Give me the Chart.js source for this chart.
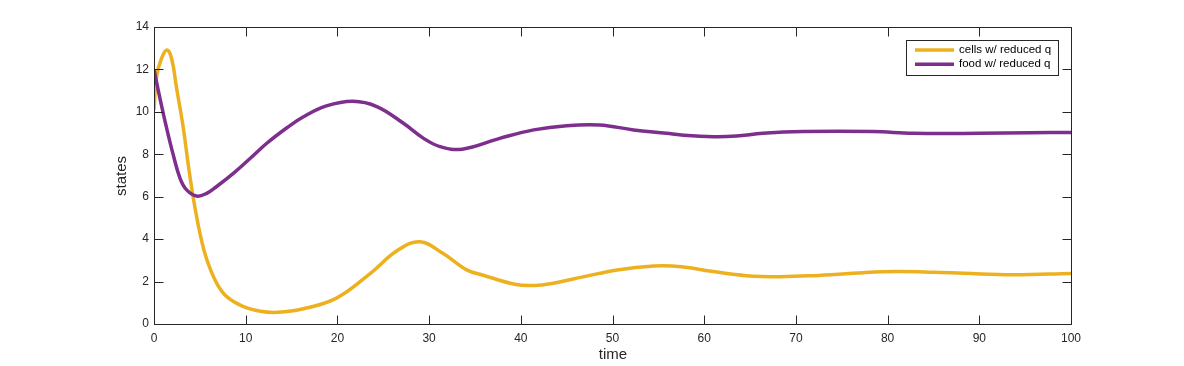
<!DOCTYPE html>
<html>
<head>
<meta charset="utf-8">
<script src="https://cdn.jsdelivr.net/npm/chart.js@4/dist/chart.umd.min.js"></script>
<style>
  html, body { margin: 0; padding: 0; background: #fff; }
  #wrap { width: 1184px; height: 366px; }
</style>
</head>
<body>
<div id="wrap"><canvas id="statesChart" width="1184" height="366"></canvas></div>
<script>
// values
const cellsTime = [0, 0.3, 0.8, 1.4, 1.9, 2.47, 3.2, 3.74, 4.29, 5.0, 5.75, 6.8, 7.9, 9.7, 11.6, 13.5, 16.3, 19.9, 23.6, 26.5, 29.0, 31.5, 34.1, 35.9, 39.5, 41.5, 43.2, 46.8, 50.5, 54.5, 57.5, 61, 64.6, 68.3, 71.9, 77.4, 81, 85, 88.3, 93.7, 100];
const cellsVals = [10.1, 11.7, 12.5, 12.92, 12.55, 11.1, 9.23, 7.5, 5.93, 4.3, 3.05, 1.95, 1.3, 0.83, 0.6, 0.55, 0.72, 1.22, 2.39, 3.45, 3.88, 3.33, 2.55, 2.3, 1.86, 1.82, 1.9, 2.22, 2.55, 2.73, 2.7, 2.47, 2.28, 2.23, 2.28, 2.42, 2.47, 2.44, 2.39, 2.32, 2.38];

const foodTime = [0, 0.65, 1.38, 2.1, 2.84, 3.56, 4.65, 5.75, 6.8, 8.65, 10.5, 12.3, 14.5, 16.3, 18.8, 21.7, 24.3, 27.2, 29.4, 31.2, 33.6, 37.7, 41.4, 45, 48.6, 52.3, 55.9, 57.5, 61, 63.5, 66.4, 70.8, 78.4, 82.8, 90, 95.5, 100];
const foodVals = [12.0, 10.64, 9.23, 7.97, 6.87, 6.32, 6.03, 6.16, 6.47, 7.1, 7.81, 8.52, 9.25, 9.77, 10.28, 10.5, 10.25, 9.46, 8.75, 8.36, 8.24, 8.75, 9.15, 9.35, 9.38, 9.15, 8.99, 8.91, 8.83, 8.86, 8.99, 9.07, 9.07, 8.99, 8.99, 9.02, 9.03];

const seriesNames = ['cells w/ reduced q', 'food w/ reduced q'];
const xTicks = [0, 10, 20, 30, 40, 50, 60, 70, 80, 90, 100];
const yTicks = [0, 2, 4, 6, 8, 10, 12, 14];
const xLabel = 'time';
const yLabel = 'states';

const FONT = '"Liberation Sans", Arial, Helvetica, sans-serif';
const AXIS_COLOR = '#262626';

function toPoints(xs, ys) {
    return xs.map((x, i) => ({ x: x, y: ys[i] }));
}

// matlab style box with inward ticks, axis labels and legend
const matlabAxes = {
    id: 'matlabAxes',
    afterDraw(chart) {
        const ctx = chart.ctx;
        const area = chart.chartArea;
        const xs = chart.scales.x;
        const ys = chart.scales.y;
        const L = Math.round(area.left) + 0.5;
        const R = Math.round(area.right) + 0.5;
        const T = Math.round(area.top) + 0.5;
        const B = Math.round(area.bottom) + 0.5;
        const tick = 9;

        ctx.save();
        ctx.strokeStyle = AXIS_COLOR;
        ctx.lineWidth = 1;
        ctx.beginPath();
        ctx.rect(L, T, R - L, B - T);
        xTicks.forEach(v => {
            const px = Math.round(xs.getPixelForValue(v)) + 0.5;
            ctx.moveTo(px, B); ctx.lineTo(px, B - tick);
            ctx.moveTo(px, T); ctx.lineTo(px, T + tick);
        });
        yTicks.forEach(v => {
            const py = Math.round(ys.getPixelForValue(v)) + 0.5;
            ctx.moveTo(L, py); ctx.lineTo(L + tick, py);
            ctx.moveTo(R, py); ctx.lineTo(R - tick, py);
        });
        ctx.stroke();

        // axis labels
        ctx.fillStyle = AXIS_COLOR;
        ctx.font = '15px ' + FONT;
        ctx.textAlign = 'center';
        ctx.textBaseline = 'middle';
        ctx.fillText(xLabel, (L + R) / 2, 355);
        ctx.translate(122, (T + B) / 2);
        ctx.rotate(-Math.PI / 2);
        ctx.fillText(yLabel, 0, 0);
        ctx.setTransform(1, 0, 0, 1, 0, 0);

        // legend
        const lx = 906.5, ly = 40.5, lw = 152, lh = 35;
        ctx.fillStyle = '#fff';
        ctx.fillRect(lx, ly, lw, lh);
        ctx.strokeStyle = AXIS_COLOR;
        ctx.strokeRect(lx, ly, lw, lh);
        ctx.font = '11.5px ' + FONT;
        ctx.textAlign = 'left';
        chart.data.datasets.forEach((ds, i) => {
            const y = 50 + i * 14.3;
            ctx.strokeStyle = ds.borderColor;
            ctx.lineWidth = 3.5;
            ctx.beginPath();
            ctx.moveTo(915, y);
            ctx.lineTo(954, y);
            ctx.stroke();
            ctx.fillStyle = '#000';
            ctx.fillText(ds.label, 959, y);
        });
        ctx.restore();
    }
};

const ctx = document.getElementById('statesChart').getContext('2d');
const statesChart = new Chart(ctx, {
    type: 'line',
    data: {
        datasets: [
            {
                label: seriesNames[0],
                data: toPoints(cellsTime, cellsVals),
                borderColor: '#EDB120',
                borderWidth: 3.5,
                pointRadius: 0,
                tension: 0.4,
                order: 1, // drawn under the food line like in the original
                fill: false
            },
            {
                label: seriesNames[1],
                data: toPoints(foodTime, foodVals),
                borderColor: '#7E2F8E',
                borderWidth: 3.5,
                pointRadius: 0,
                tension: 0.4,
                order: 0,
                fill: false
            }
        ]
    },
    options: {
        responsive: false,
        animation: false,
        layout: { padding: { left: 0, right: 113, top: 27, bottom: 0 } },
        plugins: {
            legend: { display: false },
            tooltip: { enabled: false }
        },
        scales: {
            x: {
                type: 'linear',
                min: 0,
                max: 100,
                afterBuildTicks: scale => { scale.ticks = xTicks.map(v => ({ value: v })); },
                afterFit: scale => { scale.height = 42; },
                grid: { display: false, drawTicks: false },
                border: { display: false },
                ticks: {
                    color: AXIS_COLOR,
                    font: { family: FONT, size: 12 },
                    padding: 7,
                    maxRotation: 0
                }
            },
            y: {
                type: 'linear',
                min: 0,
                max: 14,
                afterBuildTicks: scale => { scale.ticks = yTicks.map(v => ({ value: v })); },
                afterFit: scale => { scale.width = 154; },
                grid: { display: false, drawTicks: false },
                border: { display: false },
                ticks: {
                    color: AXIS_COLOR,
                    font: { family: FONT, size: 12 },
                    padding: 5
                }
            }
        }
    },
    plugins: [matlabAxes]
});
</script>
</body>
</html>
